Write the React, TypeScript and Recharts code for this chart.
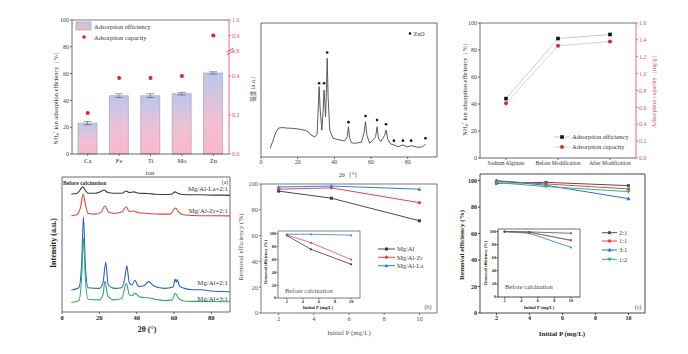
import React from 'react';
import { ComposedChart, LineChart, Line, Bar, XAxis, YAxis, ErrorBar, ReferenceLine } from 'recharts';

const SERIF = '"Liberation Serif", "Times New Roman", serif';
const CJK = '"Noto Sans CJK SC", sans-serif';

// ---------- top-left: ion doping ----------
const ions = ['Ca', 'Fe', 'Ti', 'Mo', 'Zn'];
const ionEfficiency = [23, 43.5, 43.5, 45, 60.5];
const ionEfficiencyErr = [1.2, 1.4, 1.4, 1.0, 0.9];
const ionCapacity = [0.21, 0.39, 0.39, 0.4, 0.9];
const capacityTicks = [0, 0.2, 0.4, 0.8, 0.9, 1.0];
const effTicks = [0, 20, 40, 60, 80, 100];
// broken right axis (0-0.4 | 0.8-1.0) mapped onto the 0-100 frame
const capToAxis = (v: number) => (v <= 0.4 ? (v / 0.4) * 58.2 : 77 + ((v - 0.8) / 0.2) * 23);

// ---------- top-middle: ZnO XRD ----------
const znoTheta = [5, 6.7, 8, 9.4, 11.2, 14, 16.7, 20, 24, 26, 27.2, 29.4, 30.6, 31.2, 31.7, 32.3, 33.2, 33.9, 34.4, 34.9, 35.2, 35.7, 36.1, 36.6, 37.5, 39.3, 42, 45.7, 47, 47.7, 48.4, 49.3, 51.1, 54.8, 56.2, 57, 57.8, 59.3, 62.5, 63.3, 64.1, 65.3, 67.4, 68.2, 69.2, 70.7, 72.5, 74.7, 77.4, 79.7, 81.9, 85.5, 88.2, 89.7];
const znoIntensity = [6.5, 12.7, 18, 21.4, 22, 21.6, 21.4, 21, 20, 18.5, 16.4, 15, 17, 35, 52.5, 35, 20, 35, 50, 38, 30, 50, 73.6, 45, 20, 14, 13, 12, 15, 22.6, 14, 10.7, 10.2, 11, 18, 26.4, 16, 10.2, 15, 22.6, 14, 11.4, 16, 20.1, 13, 9.7, 9, 7.7, 9, 7.5, 8.5, 7.2, 7.6, 9.7];
const znoPeakTheta = [31.7, 34.4, 36.1, 47.7, 57, 63.3, 68.2, 72.5, 77.4, 81.9, 89.7];
const znoPeakMark = [55, 55, 78, 26, 30.6, 27.6, 24.4, 12.2, 12.2, 12.2, 14];

// ---------- top-right: materials ----------
const materials = ['Sodium Alginate', 'Before Modification', 'After Modification'];
const materialEff = [44, 88.5, 91.5];
const materialCap = [0.65, 1.33, 1.38];
const materialCapTicks = [0, 0.2, 0.4, 0.6, 0.8, 1.0, 1.2, 1.4, 1.6];

// ---------- bottom-left: LDH XRD (stacked, offset units) ----------
const laTheta = [5, 8, 10, 11, 12.5, 14, 18, 20.5, 22.5, 24.5, 28, 32, 34.5, 36, 38.5, 41, 46, 50, 55, 59, 60.5, 62, 65, 70, 75, 80, 85, 90];
const laI = [87.4, 87.8, 91, 92.8, 90, 88, 88, 89, 90.4, 88.5, 88, 88, 89.6, 88.5, 89, 88, 87.8, 87.2, 87, 87.4, 89, 88, 87, 86.8, 86.8, 86.6, 86.6, 86.4];
const zrTheta = [5, 8, 10, 11.3, 12.5, 14, 18, 21, 23, 25, 28, 32, 34.4, 36, 38.5, 41, 46, 52, 58, 60.8, 62.5, 65, 70, 80, 90];
const zrI = [71.3, 72, 78, 87.4, 80, 73, 72.5, 74, 78.5, 74, 73, 74, 78, 74.5, 74.8, 73.5, 73, 72.5, 72.5, 77, 74, 72, 71.5, 71.3, 71.2];
const al21Theta = [5, 9, 10.5, 11.5, 12.5, 14, 20, 22, 23.4, 24.8, 28, 32, 34, 34.7, 36, 37.5, 39, 41, 44, 46.4, 49, 55, 59.5, 60.6, 61.2, 61.7, 63, 65.6, 70, 75, 80, 90];
const al21I = [16.3, 18, 35, 70.6, 35, 18, 17.5, 22, 36.8, 20, 17.5, 18, 28, 34.3, 22, 20, 23.5, 19, 19.5, 22.5, 19.5, 17.5, 18.5, 24.4, 22, 24, 19, 17.5, 16.5, 16.5, 15.5, 15];
const al31Theta = [5, 9, 10.5, 11.5, 12.5, 14, 20, 22, 23, 24.5, 28, 32, 34.5, 36, 37.5, 39, 42, 46, 50, 55, 59, 60.7, 62.5, 66, 75, 90];
const al31I = [7, 8.5, 25, 54.6, 25, 9.5, 9, 13, 23, 12, 9, 10, 21.2, 13, 12, 13.8, 11, 10.5, 9.5, 8.5, 9, 13.8, 10, 8, 7.8, 7.6];

// ---------- bottom-middle: removal (b) ----------
const initialP = [2, 5, 10];
const calcMgAl = [94.5, 89, 71.5];
const calcMgAlZr = [96, 97, 85.5];
const calcMgAlLa = [97.7, 98.4, 96];
const rawMgAl = [97, 75.6, 52.3];
const rawMgAlZr = [98, 85.8, 59.6];
const rawMgAlLa = [99, 99, 97.5];

// ---------- bottom-right: removal (c) ----------
const ratio21 = [98, 98.7, 96.2];
const ratio11 = [99.7, 97.5, 93.7];
const ratio31 = [100, 96.5, 86.4];
const ratio12 = [98.5, 95.5, 91.7];
const raw21 = [100, 99.5, 97.5];
const raw11 = [100, 99, 86.5];
const raw31 = [100, 97.5, 76];
const raw12 = [100, 99, 87];
const pTicks = [2, 4, 6, 8, 10];

const squareDot = (color: string, s = 3) => (p: any) =>
  p.cx == null ? <g key={p.index} /> : <rect key={p.index} x={p.cx - s / 2} y={p.cy - s / 2} width={s} height={s} fill={color} />;
const circleDot = (color: string, r = 1.8) => (p: any) =>
  p.cx == null ? <g key={p.index} /> : <circle key={p.index} cx={p.cx} cy={p.cy} r={r} fill={color} />;
const triDot = (color: string, s = 2.2) => (p: any) =>
  p.cx == null ? <g key={p.index} /> : <path key={p.index} d={`M${p.cx},${p.cy - s} L${p.cx + s},${p.cy + s * 0.75} L${p.cx - s},${p.cy + s * 0.75}Z`} fill={color} />;
const dtriDot = (color: string, s = 2.2) => (p: any) =>
  p.cx == null ? <g key={p.index} /> : <path key={p.index} d={`M${p.cx},${p.cy + s} L${p.cx + s},${p.cy - s * 0.75} L${p.cx - s},${p.cy - s * 0.75}Z`} fill={color} />;

const AX = { stroke: '#444', strokeWidth: 0.8 };

function PanelIon() {
  const data = ions.map((ion, i) => ({ ion, eff: ionEfficiency[i], err: ionEfficiencyErr[i], cap: capToAxis(ionCapacity[i]) }));
  const capPos = capacityTicks.map(capToAxis);
  return (
    <div style={{ position: 'absolute', left: 44, top: 15 }}>
      <ComposedChart width={211} height={161} data={data} margin={{ top: 5, right: 0, left: 0, bottom: 0 }} barCategoryGap="19%">
        <defs>
          <linearGradient id="ionBar" x1="0" y1="0" x2="0" y2="1">
            <stop offset="0%" stopColor="#b9c8ec" />
            <stop offset="55%" stopColor="#eec0d6" />
            <stop offset="100%" stopColor="#fbb7c7" />
          </linearGradient>
        </defs>
        <XAxis dataKey="ion" height={22} tick={{ fontSize: 6.5, fill: '#333' }} tickSize={2} tickMargin={2} axisLine={AX} tickLine={AX} />
        <YAxis yAxisId="left" width={28} domain={[0, 100]} ticks={effTicks} tick={{ fontSize: 6, fill: '#444' }} tickSize={2} tickMargin={1} axisLine={AX} tickLine={AX} />
        <YAxis
          yAxisId="right"
          orientation="right"
          width={26}
          domain={[0, 100]}
          ticks={capPos}
          tickFormatter={(v: number) => {
            const i = capPos.findIndex((p) => Math.abs(p - v) < 0.01);
            return i >= 0 ? capacityTicks[i].toFixed(1) : '';
          }}
          tick={{ fontSize: 6, fill: '#e0507a' }}
          tickSize={2}
          tickMargin={1}
          axisLine={{ stroke: '#e04a6a', strokeWidth: 0.8 }}
          tickLine={{ stroke: '#e04a6a', strokeWidth: 0.8 }}
        />
        <ReferenceLine yAxisId="left" y={100} stroke="#555" strokeWidth={0.8} />
        <Bar yAxisId="left" dataKey="eff" fill="url(#ionBar)" stroke="#9a9aaa" strokeWidth={0.6} isAnimationActive={false}>
          <ErrorBar dataKey="err" width={4} stroke="#555" strokeWidth={0.6} />
        </Bar>
        <Line yAxisId="right" dataKey="cap" stroke="none" strokeWidth={0} dot={circleDot('#e41e26', 2)} isAnimationActive={false} />
      </ComposedChart>
    </div>
  );
}

function PanelZnO() {
  const curve = znoTheta.map((x, i) => ({ x, y: znoIntensity[i] }));
  const marks = znoPeakTheta.map((x, i) => ({ x, y: znoPeakMark[i] }));
  return (
    <div style={{ position: 'absolute', left: 255, top: 18 }}>
      <LineChart width={188} height={154} margin={{ top: 5, right: 6, left: 0, bottom: 0 }}>
        <XAxis dataKey="x" type="number" domain={[0, 96]} ticks={[0, 20, 40, 60, 80]} height={15} tick={{ fontSize: 6, fill: '#444' }} tickSize={2} tickMargin={1} axisLine={AX} tickLine={AX} allowDataOverflow />
        <YAxis type="number" domain={[0, 100]} width={6} tick={false} tickLine={false} axisLine={AX} />
        <ReferenceLine y={100} stroke="#444" strokeWidth={0.8} />
        <ReferenceLine x={96} stroke="#444" strokeWidth={0.8} />
        <Line data={curve} dataKey="y" type="linear" stroke="#4a4a4a" strokeWidth={0.9} dot={false} isAnimationActive={false} />
        <Line data={marks} dataKey="y" stroke="none" strokeWidth={0} dot={circleDot('#111', 1.3)} isAnimationActive={false} />
      </LineChart>
    </div>
  );
}

function PanelMaterial() {
  const data = materials.map((m, i) => ({ m, eff: materialEff[i], cap: materialCap[i] }));
  return (
    <div style={{ position: 'absolute', left: 458, top: 18 }}>
      <ComposedChart width={198} height={154} data={data} margin={{ top: 5, right: 0, left: 0, bottom: 0 }}>
        <XAxis dataKey="m" scale="band" height={14} tick={{ fontSize: 5.5, fill: '#333' }} tickSize={2} tickMargin={1} axisLine={AX} tickLine={AX} interval={0} />
        <YAxis yAxisId="left" width={22} domain={[0, 100]} ticks={effTicks} tick={{ fontSize: 6, fill: '#444' }} tickSize={2} tickMargin={1} axisLine={AX} tickLine={AX} />
        <YAxis yAxisId="right" orientation="right" width={20} domain={[0, 1.6]} ticks={materialCapTicks} tickFormatter={(v: number) => v.toFixed(1)} tick={{ fontSize: 6, fill: '#e0507a' }} tickSize={2} tickMargin={1} axisLine={{ stroke: '#e04a6a', strokeWidth: 0.8 }} tickLine={{ stroke: '#e04a6a', strokeWidth: 0.8 }} />
        <ReferenceLine yAxisId="left" y={100} stroke="#555" strokeWidth={0.8} />
        <Line yAxisId="left" dataKey="eff" stroke="#b4b4b4" strokeWidth={0.7} dot={squareDot('#111', 3.6)} isAnimationActive={false} />
        <Line yAxisId="right" dataKey="cap" stroke="#c4c4c4" strokeWidth={0.7} dot={circleDot('#e02a2a', 2)} isAnimationActive={false} />
      </ComposedChart>
    </div>
  );
}

function PanelLDH() {
  const mk = (xs: number[], ys: number[]) => xs.map((x, i) => ({ x, y: ys[i] }));
  return (
    <div style={{ position: 'absolute', left: 58, top: 172 }}>
      <LineChart width={176} height={154} margin={{ top: 5, right: 4, left: 0, bottom: 0 }}>
        <XAxis dataKey="x" type="number" domain={[0, 90]} ticks={[0, 20, 40, 60, 80]} height={14} tick={{ fontSize: 6.5, fill: '#222', fontWeight: 700 }} tickSize={2} tickMargin={1} axisLine={AX} tickLine={AX} />
        <YAxis type="number" domain={[0, 100]} width={4} tick={false} tickLine={false} axisLine={AX} />
        <ReferenceLine y={100} stroke="#444" strokeWidth={0.8} />
        <ReferenceLine x={90} stroke="#444" strokeWidth={0.8} />
        <Line data={mk(laTheta, laI)} dataKey="y" type="monotone" stroke="#3c3c3c" strokeWidth={1.1} dot={false} isAnimationActive={false} />
        <Line data={mk(zrTheta, zrI)} dataKey="y" type="monotone" stroke="#e3433f" strokeWidth={1.1} dot={false} isAnimationActive={false} />
        <Line data={mk(al21Theta, al21I)} dataKey="y" type="monotone" stroke="#2a62c4" strokeWidth={1.1} dot={false} isAnimationActive={false} />
        <Line data={mk(al31Theta, al31I)} dataKey="y" type="monotone" stroke="#34a86a" strokeWidth={1.1} dot={false} isAnimationActive={false} />
      </LineChart>
    </div>
  );
}

function PanelCalcined() {
  const data = initialP.map((p, i) => ({ p, a: calcMgAl[i], b: calcMgAlZr[i], c: calcMgAlLa[i] }));
  const raw = initialP.map((p, i) => ({ p, a: rawMgAl[i], b: rawMgAlZr[i], c: rawMgAlLa[i] }));
  const ax = { stroke: '#555', strokeWidth: 0.8 };
  return (
    <>
      <div style={{ position: 'absolute', left: 243, top: 179 }}>
        <LineChart width={200} height={148} data={data} margin={{ top: 5, right: 6, left: 0, bottom: 0 }}>
          <XAxis dataKey="p" type="number" domain={[1, 11]} ticks={pTicks} height={14} tick={{ fontSize: 6.5, fill: '#555' }} tickSize={2} tickMargin={1} axisLine={ax} tickLine={ax} />
          <YAxis type="number" domain={[0, 100]} ticks={effTicks} width={18} tick={{ fontSize: 6.5, fill: '#555' }} tickSize={2} tickMargin={1} axisLine={ax} tickLine={ax} />
          <ReferenceLine y={100} stroke="#555" strokeWidth={0.8} />
          <ReferenceLine x={11} stroke="#555" strokeWidth={0.8} />
          <Line dataKey="a" stroke="#4a4a4a" strokeWidth={1} dot={squareDot('#3a3a3a', 3)} isAnimationActive={false} />
          <Line dataKey="b" stroke="#e2455a" strokeWidth={1} dot={circleDot('#e2455a', 1.7)} isAnimationActive={false} />
          <Line dataKey="c" stroke="#3282d2" strokeWidth={1} dot={triDot('#3282d2', 2)} isAnimationActive={false} />
        </LineChart>
      </div>
      <div style={{ position: 'absolute', left: 267, top: 228 }}>
        <LineChart width={96} height={79} data={raw} margin={{ top: 3, right: 3, left: 0, bottom: 0 }}>
          <XAxis dataKey="p" type="number" domain={[0.9, 11.1]} ticks={pTicks} height={9} tick={{ fontSize: 4.2, fill: '#222', fontWeight: 700 }} tickSize={1.5} tickMargin={0.5} axisLine={ax} tickLine={ax} />
          <YAxis type="number" domain={[0, 104]} ticks={effTicks} width={11} tick={{ fontSize: 4.2, fill: '#222', fontWeight: 700 }} tickSize={1.5} tickMargin={0.5} axisLine={ax} tickLine={ax} />
          <ReferenceLine y={104} stroke="#555" strokeWidth={0.7} />
          <ReferenceLine x={11.1} stroke="#555" strokeWidth={0.7} />
          <Line dataKey="a" stroke="#3a3a3a" strokeWidth={0.8} dot={squareDot('#3a3a3a', 1.8)} isAnimationActive={false} />
          <Line dataKey="b" stroke="#e2455a" strokeWidth={0.8} dot={circleDot('#e2455a', 1.1)} isAnimationActive={false} />
          <Line dataKey="c" stroke="#3282d2" strokeWidth={0.8} dot={triDot('#3282d2', 1.3)} isAnimationActive={false} />
        </LineChart>
      </div>
    </>
  );
}

function PanelRatio() {
  const data = initialP.map((p, i) => ({ p, a: ratio21[i], b: ratio11[i], c: ratio31[i], d: ratio12[i] }));
  const raw = initialP.map((p, i) => ({ p, a: raw21[i], b: raw11[i], c: raw31[i], d: raw12[i] }));
  const ax = { stroke: '#333', strokeWidth: 0.9 };
  return (
    <>
      <div style={{ position: 'absolute', left: 462, top: 169 }}>
        <LineChart width={189} height={158} data={data} margin={{ top: 5, right: 6, left: 0, bottom: 0 }}>
          <XAxis dataKey="p" type="number" domain={[1, 11]} ticks={pTicks} height={14} tick={{ fontSize: 6, fill: '#222', fontWeight: 700 }} tickSize={2} tickMargin={1} axisLine={ax} tickLine={ax} />
          <YAxis type="number" domain={[0, 105]} ticks={effTicks} width={18} tick={{ fontSize: 6, fill: '#222', fontWeight: 700 }} tickSize={2} tickMargin={1} axisLine={ax} tickLine={ax} />
          <ReferenceLine y={105} stroke="#333" strokeWidth={0.9} />
          <ReferenceLine x={11} stroke="#333" strokeWidth={0.9} />
          <Line dataKey="a" stroke="#505050" strokeWidth={1} dot={squareDot('#505050', 3)} isAnimationActive={false} />
          <Line dataKey="b" stroke="#e84a4a" strokeWidth={1} dot={circleDot('#e84a4a', 1.8)} isAnimationActive={false} />
          <Line dataKey="c" stroke="#2f6fd6" strokeWidth={1} dot={triDot('#2f6fd6', 2.2)} isAnimationActive={false} />
          <Line dataKey="d" stroke="#2eb872" strokeWidth={1} dot={dtriDot('#2eb872', 2.2)} isAnimationActive={false} />
        </LineChart>
      </div>
      <div style={{ position: 'absolute', left: 486, top: 226 }}>
        <LineChart width={97} height={80} data={raw} margin={{ top: 3, right: 3, left: 0, bottom: 0 }}>
          <XAxis dataKey="p" type="number" domain={[1.2, 11.1]} ticks={pTicks} height={9} tick={{ fontSize: 4.2, fill: '#222', fontWeight: 700 }} tickSize={1.5} tickMargin={0.5} axisLine={ax} tickLine={ax} />
          <YAxis type="number" domain={[0, 104]} ticks={effTicks} width={12} tick={{ fontSize: 4.2, fill: '#222', fontWeight: 700 }} tickSize={1.5} tickMargin={0.5} axisLine={ax} tickLine={ax} />
          <ReferenceLine y={104} stroke="#333" strokeWidth={0.7} />
          <ReferenceLine x={11.1} stroke="#333" strokeWidth={0.7} />
          <Line dataKey="d" stroke="#2eb872" strokeWidth={0.8} dot={dtriDot('#2eb872', 1.3)} isAnimationActive={false} />
          <Line dataKey="c" stroke="#2f6fd6" strokeWidth={0.8} dot={triDot('#2f6fd6', 1.3)} isAnimationActive={false} />
          <Line dataKey="b" stroke="#b5504a" strokeWidth={0.8} dot={circleDot('#b5504a', 1.1)} isAnimationActive={false} />
          <Line dataKey="a" stroke="#555" strokeWidth={0.8} dot={squareDot('#555', 1.8)} isAnimationActive={false} />
        </LineChart>
      </div>
    </>
  );
}

const Rot = ({ x, y, size, children, fill = '#333', weight = 400, family = SERIF }: any) => (
  <text transform={`translate(${x},${y}) rotate(-90)`} textAnchor="middle" dominantBaseline="central" fontSize={size} fill={fill} fontWeight={weight} fontFamily={family}>
    {children}
  </text>
);

function Annotations() {
  const T = (p: any) => <text fontFamily={SERIF} fill="#333" {...p} />;
  return (
    <svg width={688} height={354} style={{ position: 'absolute', left: 0, top: 0, pointerEvents: 'none' }}>
      <defs>
        <linearGradient id="legBar" x1="0" y1="0" x2="0" y2="1">
          <stop offset="0%" stopColor="#b9c8ec" />
          <stop offset="100%" stopColor="#fbb7c7" />
        </linearGradient>
      </defs>
      {/* top-left */}
      <Rot x={55} y={97} size={6.3}>
        NH<tspan dy={1.5} fontSize={4.3}>4</tspan>
        <tspan dy={-4} fontSize={4.3}>+</tspan>
        <tspan dy={2.5}> ion adsorption efficiency（%）</tspan>
      </Rot>
      <T x={150} y={175} fontSize={6.5} textAnchor="middle">ion</T>
      <rect x={76} y={22} width={15} height={8} fill="url(#legBar)" stroke="#9a9aaa" strokeWidth={0.6} />
      <T x={94} y={28.5} fontSize={6.5}>Adsorption efficiency</T>
      <circle cx={84} cy={37} r={1.8} fill="#e41e26" />
      <T x={94} y={39.5} fontSize={6.5}>Adsorption capacity</T>
      <path d="M226.5,55 L233.5,51 M226.5,52 L233.5,48" stroke="#e04a6a" strokeWidth={0.8} fill="none" />

      {/* top-middle */}
      <Rot x={253} y={89} size={5.5} family={CJK} fill="#444">强度 (a.u.)</Rot>
      <T x={350} y={177} fontSize={6.5} textAnchor="middle" fill="#444">2θ（°）</T>
      <circle cx={410} cy={33.5} r={1.3} fill="#111" />
      <T x={413.5} y={35.5} fontSize={6}>ZnO</T>

      {/* top-right */}
      <Rot x={464} y={88} size={6.3}>
        NH<tspan dy={1.5} fontSize={4.3}>4</tspan>
        <tspan dy={-4} fontSize={4.3}>+</tspan>
        <tspan dy={2.5}> ion adsorption efficiency（%）</tspan>
      </Rot>
      <Rot x={653} y={90} size={6.3} fill="#e0506a">Adsorption capacity（mg/g）</Rot>
      <line x1={554} y1={137} x2={570} y2={137} stroke="#b4b4b4" strokeWidth={0.7} />
      <rect x={560.2} y={135.2} width={3.6} height={3.6} fill="#111" />
      <T x={572} y={139.3} fontSize={6.5}>Adsorption efficiency</T>
      <line x1={554} y1={147} x2={570} y2={147} stroke="#c4c4c4" strokeWidth={0.7} />
      <circle cx={562} cy={147} r={2} fill="#e02a2a" />
      <T x={572} y={149.3} fontSize={6.5}>Adsorption capacity</T>

      {/* bottom-left */}
      <Rot x={53} y={243} size={8} weight={700} fill="#222">Intensity (a.u.)</Rot>
      <T x={147} y={332} fontSize={8} fontWeight={700} textAnchor="middle" fill="#222">2θ (°)</T>
      <T x={63} y={185} fontSize={5.6} fontWeight={700} fill="#333">Before calcination</T>
      <T x={228} y={184} fontSize={5.6} textAnchor="end">(a)</T>
      <T x={228} y={190.5} fontSize={6.8} textAnchor="end">Mg/Al-La=2:1</T>
      <T x={228} y={213} fontSize={6.8} textAnchor="end">Mg/Al-Zr=2:1</T>
      <T x={228} y={285} fontSize={6.8} textAnchor="end">Mg/Al=2:1</T>
      <T x={228} y={300.5} fontSize={6.8} textAnchor="end">Mg/Al=3:1</T>

      {/* bottom-middle */}
      <Rot x={241} y={247} size={7} fill="#555">Removal efficiency (%)</Rot>
      <T x={349} y={334.5} fontSize={7} textAnchor="middle" fill="#555">Initial P (mg/L)</T>
      <T x={428} y={309} fontSize={6} textAnchor="middle" fill="#444">(b)</T>
      <line x1={378} y1={249} x2={395} y2={249} stroke="#4a4a4a" strokeWidth={1} />
      <rect x={385} y={247.5} width={3} height={3} fill="#3a3a3a" />
      <T x={397} y={251.3} fontSize={6.5} fill="#444">Mg/Al</T>
      <line x1={378} y1={257.3} x2={395} y2={257.3} stroke="#e2455a" strokeWidth={1} />
      <circle cx={386.5} cy={257.3} r={1.7} fill="#e2455a" />
      <T x={397} y={259.6} fontSize={6.5} fill="#444">Mg/Al-Zr</T>
      <line x1={378} y1={265.7} x2={395} y2={265.7} stroke="#3282d2" strokeWidth={1} />
      <path d="M386.5,263.7 L388.5,267.2 L384.5,267.2Z" fill="#3282d2" />
      <T x={397} y={268} fontSize={6.5} fill="#444">Mg/Al-La</T>
      <Rot x={265} y={262} size={4.4} weight={700} fill="#222">Removal efficiency (%)</Rot>
      <T x={318} y={308.5} fontSize={4.6} fontWeight={700} textAnchor="middle" fill="#222">Initial P (mg/L)</T>
      <T x={285} y={292.5} fontSize={6.5} fill="#555">Before calcination</T>

      {/* bottom-right */}
      <Rot x={462} y={245} size={7} weight={700} fill="#222">Removal efficiency (%)</Rot>
      <T x={562} y={335.5} fontSize={7} fontWeight={700} textAnchor="middle" fill="#222">Initial P (mg/L)</T>
      <T x={638} y={309} fontSize={6} textAnchor="middle" fill="#444">(c)</T>
      <line x1={602} y1={232.7} x2={617} y2={232.7} stroke="#505050" strokeWidth={1} />
      <rect x={608} y={231.2} width={3} height={3} fill="#505050" />
      <T x={619} y={235} fontSize={6.5} fill="#444">2:1</T>
      <line x1={602} y1={241} x2={617} y2={241} stroke="#e84a4a" strokeWidth={1} />
      <circle cx={609.5} cy={241} r={1.8} fill="#e84a4a" />
      <T x={619} y={243.3} fontSize={6.5} fill="#444">1:1</T>
      <line x1={602} y1={250} x2={617} y2={250} stroke="#2f6fd6" strokeWidth={1} />
      <path d="M609.5,247.8 L611.7,251.6 L607.3,251.6Z" fill="#2f6fd6" />
      <T x={619} y={252.3} fontSize={6.5} fill="#444">3:1</T>
      <line x1={602} y1={259.3} x2={617} y2={259.3} stroke="#2eb872" strokeWidth={1} />
      <path d="M609.5,261.5 L611.7,257.7 L607.3,257.7Z" fill="#2eb872" />
      <T x={619} y={261.6} fontSize={6.5} fill="#444">1:2</T>
      <Rot x={485} y={263} size={4.4} weight={700} fill="#222">Removal efficiency (%)</Rot>
      <T x={539} y={308.5} fontSize={4.6} fontWeight={700} textAnchor="middle" fill="#222">Initial P (mg/L)</T>
      <T x={505} y={288.5} fontSize={6.5} fill="#444">Before calcination</T>
    </svg>
  );
}

export default function App() {
  return (
    <div style={{ position: 'absolute', left: 0, top: 0, width: 688, height: 354, background: '#fff', fontFamily: SERIF, overflow: 'hidden' }}>
      <PanelIon />
      <PanelZnO />
      <PanelMaterial />
      <PanelLDH />
      <PanelCalcined />
      <PanelRatio />
      <Annotations />
    </div>
  );
}
